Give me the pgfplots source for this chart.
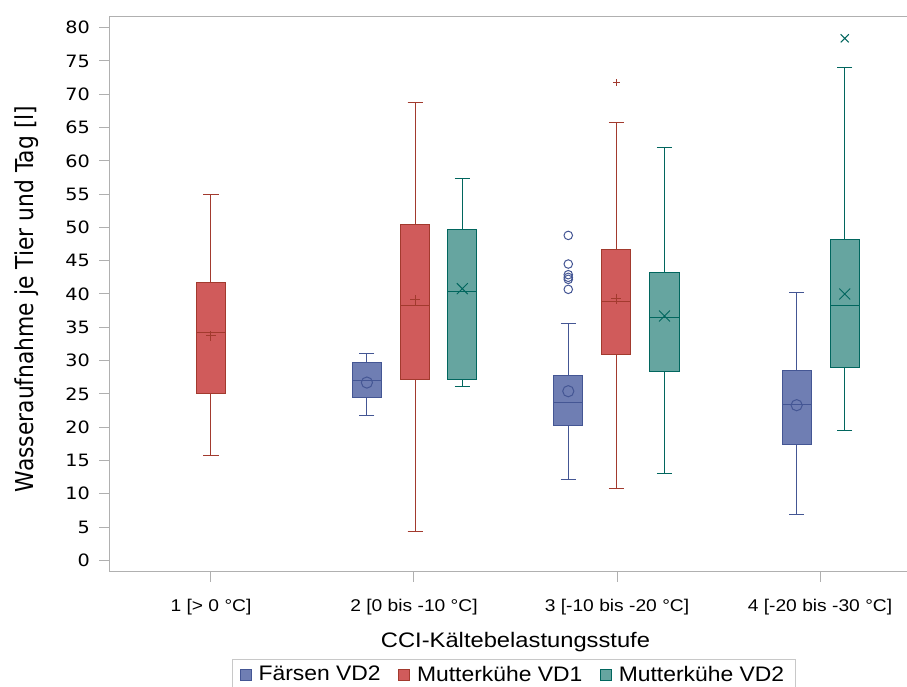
\documentclass[border=0pt]{standalone}
\usepackage{fontspec}
\usepackage{pgfplots}
\pgfplotsset{compat=1.18}
\usepgfplotslibrary{statistics}
\newfontfamily\lsans{Liberation Sans}[FakeStretch=1.13]
\newfontfamily\lsansL{Liberation Sans}[FakeStretch=1.09]
\newfontfamily\dvsans{DejaVu Sans}[FakeStretch=1.13]
\newfontfamily\dvlab{DejaVu Sans}[FakeStretch=0.885]
\definecolor{cA}{HTML}{6F7EB3}
\definecolor{cAd}{HTML}{445694}
\definecolor{cB}{HTML}{D05B5B}
\definecolor{cBd}{HTML}{A23A2E}
\definecolor{cC}{HTML}{66A5A0}
\definecolor{cCd}{HTML}{01665E}
\definecolor{axg}{HTML}{B0B0B0}
\definecolor{lgg}{HTML}{C8C8C8}
\begin{document}
\begin{tikzpicture}
\begin{axis}[
 at={(0,0)}, anchor=south west,
 scale only axis, width=609pt, height=416.25pt,
 xmin=0.5, xmax=4.5, ymin=-1.71, ymax=81.65,
 boxplot/draw direction=y,
 xtick={1,2,3,4},
 xticklabels={1 [> 0 °C],2 [0 bis -10 °C],3 [-10 bis -20 °C],4 [-20 bis -30 °C]},
 ytick={0,5,...,80},
 tick pos=left, tick align=outside, major tick length=7.5pt,
 axis line style={draw=axg, line width=0.75pt},
 tick style={draw=axg, line width=0.75pt},
 /pgf/number format/assume math mode=true,
 xticklabel style={font=\lsans\fontsize{12.75pt}{15pt}\selectfont, anchor=base, inner sep=0pt, yshift=-22pt},
 yticklabel style={font=\dvsans\fontsize{12.75pt}{15pt}\selectfont, anchor=east, inner sep=0pt, xshift=-7.1pt},
 xlabel={CCI-Kältebelastungsstufe},
 xlabel style={font=\lsans\fontsize{15.75pt}{18pt}\selectfont, at={(axis description cs:0.5,0)}, anchor=base, inner sep=0pt, yshift=-56.5pt},
 ylabel={Wasseraufnahme je Tier und Tag [l]},
 ylabel style={font=\dvlab\fontsize{18.5pt}{20pt}\selectfont, at={(axis description cs:-0.0942,0.4914)}, anchor=base, inner sep=0pt},
 legend columns=3,
 legend style={at={(axis description cs:0.498,-0.1568)}, anchor=north, draw=lgg, line width=0.75pt,
   font=\lsansL\fontsize{15.75pt}{18pt}\selectfont, inner xsep=5.5pt, inner ysep=2pt,
   nodes={inner xsep=3pt, inner ysep=3pt},
   /tikz/every even column/.append style={column sep=10pt}},
 legend image code/.code={\draw[#1, line width=0.75pt] (0pt,-4.5pt) rectangle (8.25pt,3.75pt); \path (10.5pt,0pt);},
]
\addlegendimage{fill=cA, draw=cAd}
\addlegendentry{Färsen VD2}
\addlegendimage{fill=cB, draw=cBd}
\addlegendentry{Mutterkühe VD1}
\addlegendimage{fill=cC, draw=cCd}
\addlegendentry{Mutterkühe VD2}

% Category 1
\addplot[forget plot, fill=cB, draw=cBd, line width=0.75pt, boxplot prepared={draw position=1.0, lower whisker=15.7, lower quartile=25.0, median=34.2, upper quartile=41.7, upper whisker=55.0, box extend=0.143, whisker extend=0.074}] coordinates {};
% Category 2
\addplot[forget plot, fill=cA, draw=cAd, line width=0.75pt, boxplot prepared={draw position=1.768, lower whisker=21.7, lower quartile=24.5, median=27.0, upper quartile=29.7, upper whisker=31.0, box extend=0.143, whisker extend=0.074}] coordinates {};
\addplot[forget plot, fill=cB, draw=cBd, line width=0.75pt, boxplot prepared={draw position=2.005, lower whisker=4.35, lower quartile=27.1, median=38.3, upper quartile=50.4, upper whisker=68.7, box extend=0.143, whisker extend=0.074}] coordinates {};
\addplot[forget plot, fill=cC, draw=cCd, line width=0.75pt, boxplot prepared={draw position=2.238, lower whisker=26.1, lower quartile=27.1, median=40.4, upper quartile=49.7, upper whisker=57.3, box extend=0.143, whisker extend=0.074}] coordinates {};
% Category 3
\addplot[forget plot, fill=cA, draw=cAd, line width=0.75pt, boxplot prepared={draw position=2.760, lower whisker=12.2, lower quartile=20.3, median=23.7, upper quartile=27.8, upper whisker=35.5, box extend=0.143, whisker extend=0.074}] coordinates {};
\addplot[forget plot, fill=cB, draw=cBd, line width=0.75pt, boxplot prepared={draw position=2.997, lower whisker=10.75, lower quartile=30.9, median=38.9, upper quartile=46.7, upper whisker=65.8, box extend=0.143, whisker extend=0.074}] coordinates {};
\addplot[forget plot, fill=cC, draw=cCd, line width=0.75pt, boxplot prepared={draw position=3.234, lower whisker=13.0, lower quartile=28.3, median=36.5, upper quartile=43.3, upper whisker=62.0, box extend=0.143, whisker extend=0.074}] coordinates {};
% Category 4
\addplot[forget plot, fill=cA, draw=cAd, line width=0.75pt, boxplot prepared={draw position=3.885, lower whisker=6.95, lower quartile=17.4, median=23.4, upper quartile=28.5, upper whisker=40.2, box extend=0.143, whisker extend=0.074}] coordinates {};
\addplot[forget plot, fill=cC, draw=cCd, line width=0.75pt, boxplot prepared={draw position=4.122, lower whisker=19.5, lower quartile=29.0, median=38.3, upper quartile=48.2, upper whisker=74.0, box extend=0.143, whisker extend=0.074}] coordinates {};

% means
\addplot[forget plot, only marks, mark=o, mark size=4.2pt, color=cAd, line width=0.75pt] coordinates {(1.768,26.7) (2.760,25.4) (3.885,23.3)};
\addplot[forget plot, only marks, mark=+, mark size=3.75pt, color=cBd, line width=0.75pt] coordinates {(1.0,33.7) (2.005,39.1) (2.997,39.3)};
\addplot[forget plot, only marks, mark=x, mark size=5.8pt, color=cCd, line width=0.75pt] coordinates {(2.238,40.8) (3.234,36.7) (4.122,40.0)};
% outliers
\addplot[forget plot, only marks, mark=o, mark size=3.2pt, color=cAd, line width=0.75pt] coordinates {(2.760,48.8) (2.760,44.5) (2.760,42.9) (2.760,42.5) (2.760,42.2) (2.760,40.7)};
\addplot[forget plot, only marks, mark=+, mark size=2.6pt, color=cBd, line width=0.75pt] coordinates {(2.997,71.7)};
\addplot[forget plot, only marks, mark=x, mark size=4.3pt, color=cCd, line width=0.75pt] coordinates {(4.122,78.4)};
\end{axis}
\pgfresetboundingbox
\path[use as bounding box] (-82.125pt,-85.725pt) rectangle (598.125pt,428.775pt);
\end{tikzpicture}
\end{document}
